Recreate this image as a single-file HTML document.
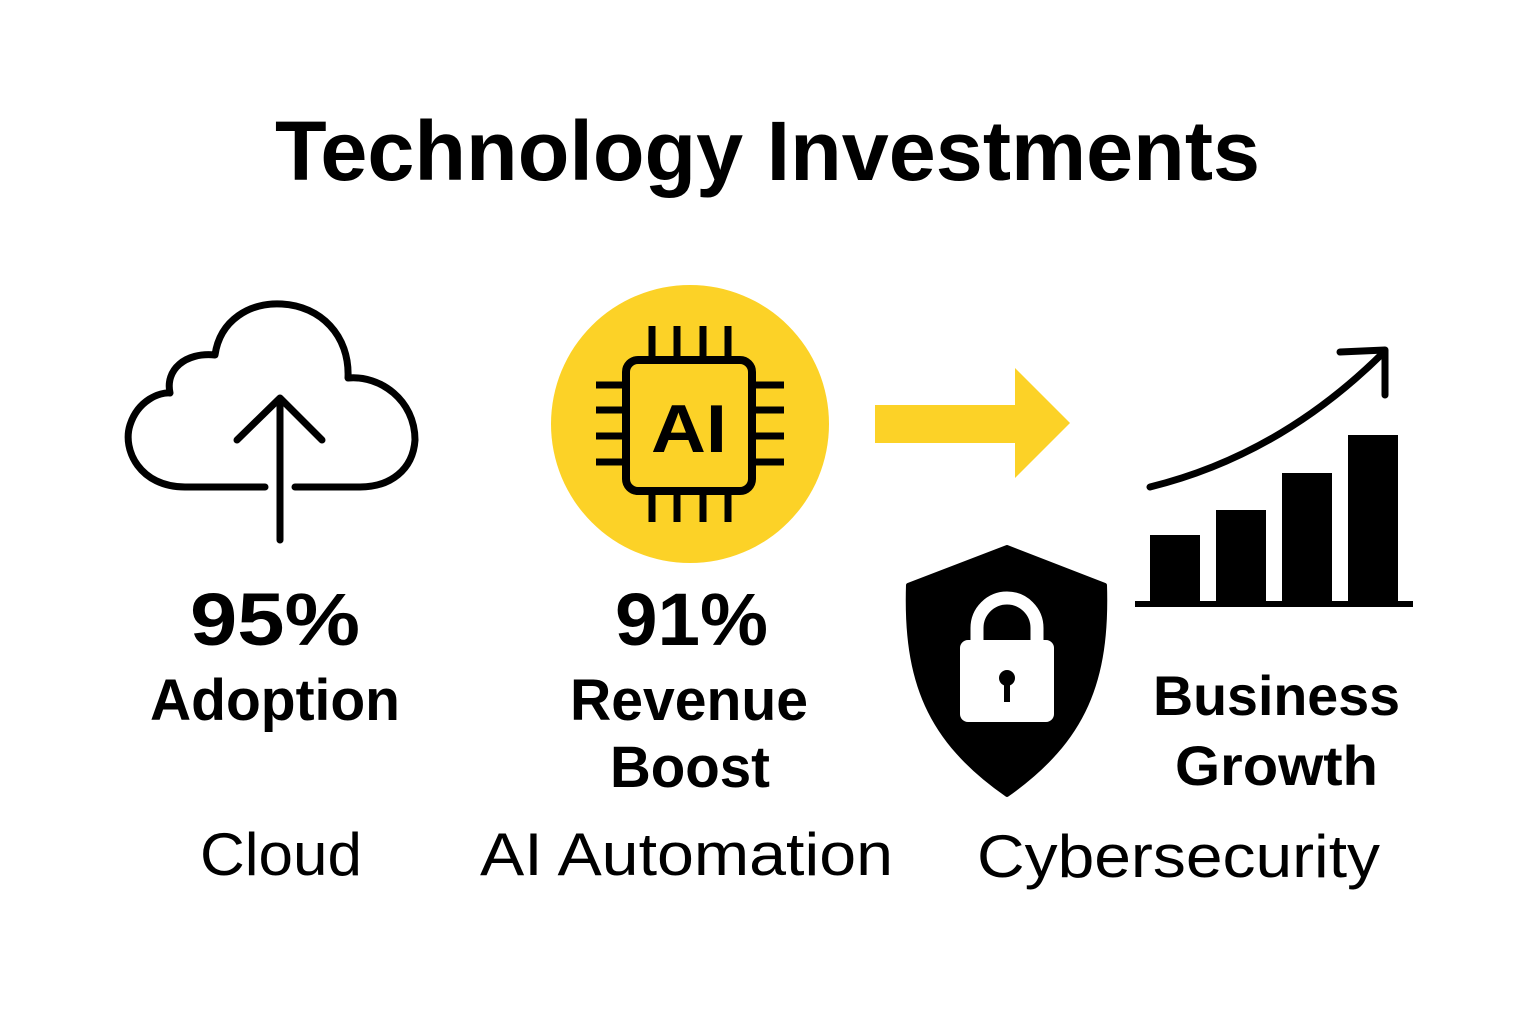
<!DOCTYPE html>
<html><head><meta charset="utf-8"><style>
html,body{margin:0;padding:0;background:#fff;}
svg{display:block;}
text{font-family:"Liberation Sans",sans-serif;fill:#000;}
</style></head><body>
<svg width="1536" height="1024" viewBox="0 0 1536 1024" xmlns="http://www.w3.org/2000/svg">
<rect width="1536" height="1024" fill="#fff"/>
<text x="275" y="180" font-size="84" font-weight="bold" textLength="985" lengthAdjust="spacingAndGlyphs">Technology Investments</text>

<!-- Cloud -->
<path d="M265 487 H185 C140 487 122 450 130 425 C138 400 160 392 170 393 C165 370 185 352 215 355 C220 320 250 302 282 304 C320 306 350 335 348 378 C380 375 415 400 415 440 C413 470 390 487 360 487 H295" fill="none" stroke="#000" stroke-width="7" stroke-linejoin="round" stroke-linecap="round"/>
<line x1="280" y1="540" x2="280" y2="400" stroke="#000" stroke-width="7" stroke-linecap="round"/>
<polyline points="237,440 280,398 322,440" fill="none" stroke="#000" stroke-width="7" stroke-linecap="round" stroke-linejoin="round"/>

<!-- AI circle -->
<circle cx="690" cy="424" r="139" fill="#FCD227"/>
<g stroke="#000" stroke-width="7" stroke-linecap="butt">
<line x1="652" y1="326" x2="652" y2="362"/><line x1="677" y1="326" x2="677" y2="362"/><line x1="703" y1="326" x2="703" y2="362"/><line x1="728" y1="326" x2="728" y2="362"/>
<line x1="652" y1="490" x2="652" y2="522"/><line x1="677" y1="490" x2="677" y2="522"/><line x1="703" y1="490" x2="703" y2="522"/><line x1="728" y1="490" x2="728" y2="522"/>
<line x1="596" y1="385" x2="627" y2="385"/><line x1="596" y1="410" x2="627" y2="410"/><line x1="596" y1="436" x2="627" y2="436"/><line x1="596" y1="462" x2="627" y2="462"/>
<line x1="750" y1="385" x2="784" y2="385"/><line x1="750" y1="410" x2="784" y2="410"/><line x1="750" y1="436" x2="784" y2="436"/><line x1="750" y1="462" x2="784" y2="462"/>
</g>
<rect x="626" y="360" width="126" height="131" rx="12" fill="#FCD227" stroke="#000" stroke-width="8"/>
<text x="651" y="452" font-size="68" font-weight="bold" textLength="76" lengthAdjust="spacingAndGlyphs">AI</text>

<!-- Yellow arrow -->
<polygon points="875,405 1015,405 1015,368 1070,423 1015,478 1015,443 875,443" fill="#FCD227"/>

<!-- Chart -->
<rect x="1150" y="535" width="50" height="68" fill="#000"/>
<rect x="1216" y="510" width="50" height="93" fill="#000"/>
<rect x="1282" y="473" width="50" height="130" fill="#000"/>
<rect x="1348" y="435" width="50" height="168" fill="#000"/>
<line x1="1135" y1="604" x2="1413" y2="604" stroke="#000" stroke-width="6"/>
<path d="M1150 487 Q1280 455 1383 353" fill="none" stroke="#000" stroke-width="7" stroke-linecap="round"/>
<polyline points="1340,352 1385,350 1385,395" fill="none" stroke="#000" stroke-width="7" stroke-linecap="round" stroke-linejoin="round"/>

<!-- Shield -->
<path d="M1007 547 L1105 585 C1108 680 1085 740 1007 795 C928 740 905 680 908 585 Z" fill="#000" stroke="#000" stroke-width="4" stroke-linejoin="round"/>
<path d="M977 642 V628 A30 30 0 0 1 1037 628 V642" fill="none" stroke="#fff" stroke-width="13"/>
<rect x="960" y="640" width="94" height="82" rx="8" fill="#fff"/>
<circle cx="1007" cy="678" r="8" fill="#000"/>
<rect x="1004" y="680" width="6" height="22" fill="#000"/>

<!-- Texts -->
<text x="190" y="645" font-size="74" font-weight="bold" textLength="170" lengthAdjust="spacingAndGlyphs">95%</text>
<text x="150" y="720" font-size="58" font-weight="bold" textLength="250" lengthAdjust="spacingAndGlyphs">Adoption</text>
<text x="615" y="645" font-size="74" font-weight="bold" textLength="153" lengthAdjust="spacingAndGlyphs">91%</text>
<text x="570" y="720" font-size="58" font-weight="bold" textLength="238" lengthAdjust="spacingAndGlyphs">Revenue</text>
<text x="610" y="787" font-size="58" font-weight="bold" textLength="160" lengthAdjust="spacingAndGlyphs">Boost</text>
<text x="1153" y="715" font-size="56" font-weight="bold" textLength="247" lengthAdjust="spacingAndGlyphs">Business</text>
<text x="1175" y="785" font-size="56" font-weight="bold" textLength="203" lengthAdjust="spacingAndGlyphs">Growth</text>
<text x="200" y="875" font-size="60" textLength="162" lengthAdjust="spacingAndGlyphs">Cloud</text>
<text x="480" y="875" font-size="60" textLength="413" lengthAdjust="spacingAndGlyphs">AI Automation</text>
<text x="977" y="877" font-size="60" textLength="403" lengthAdjust="spacingAndGlyphs">Cybersecurity</text>
</svg>
</body></html>
